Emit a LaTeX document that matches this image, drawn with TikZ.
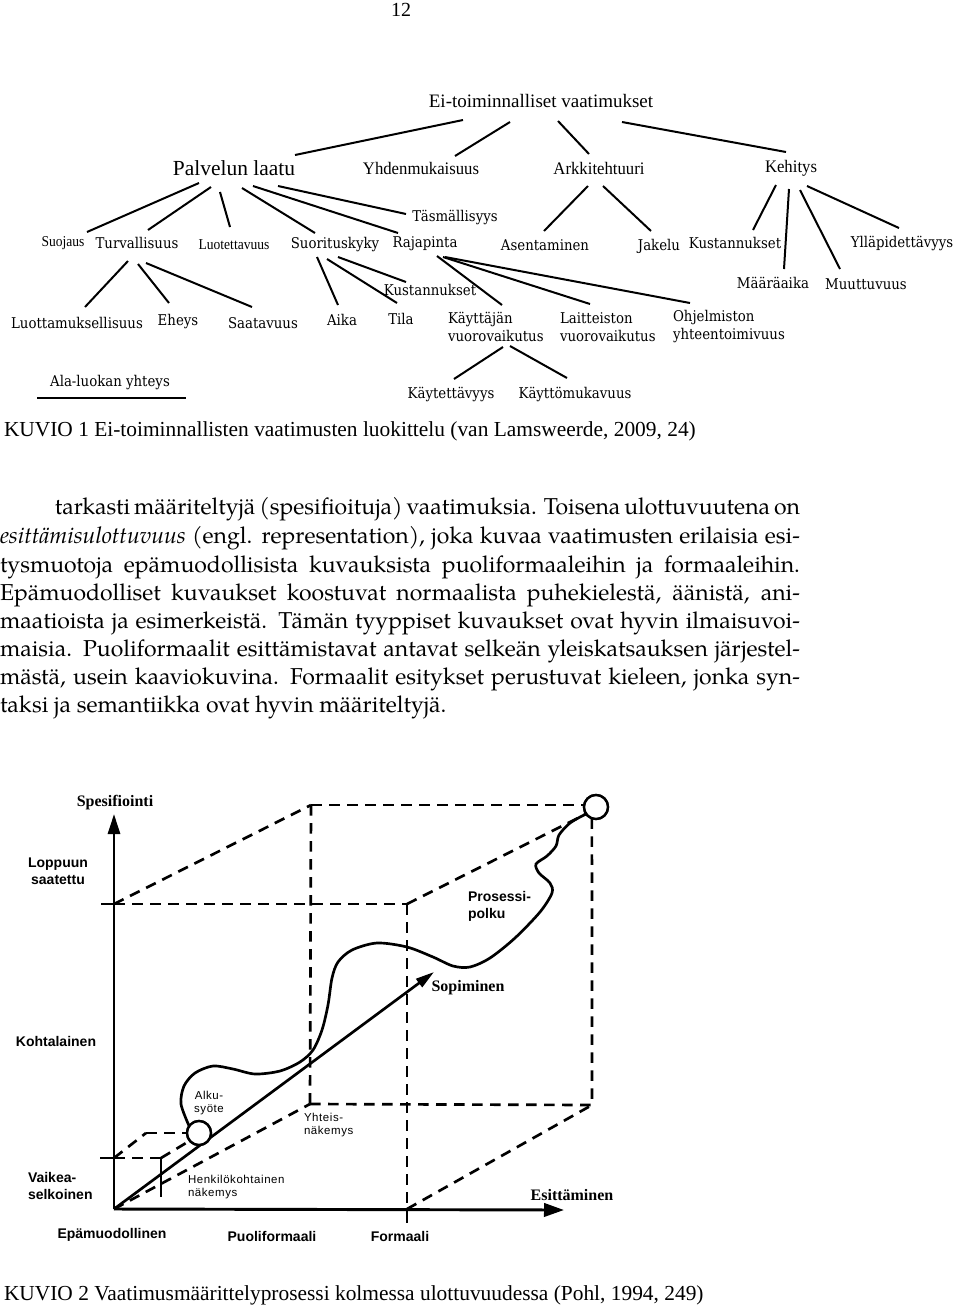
\documentclass[tikz,border=0pt]{standalone}
\usepackage{fontspec}
\setmainfont{Liberation Serif}
\newfontfamily\dvs[FakeStretch=0.9]{DejaVu Serif}
\newfontfamily\lsc[FakeStretch=0.9]{Liberation Serif}
\newfontfamily\lsh[FakeStretch=0.95]{Liberation Serif}
\newfontfamily\pal{TeX Gyre Pagella}
\newfontfamily\ars{Liberation Sans}
\newfontfamily\arsp[LetterSpace=5]{Liberation Sans}
\usetikzlibrary{calc,arrows.meta}
\newcommand\setfs[2]{\fontsize{#1}{#2}\selectfont}
\begin{document}
\begin{tikzpicture}[x=0.75pt,y=-0.75pt,
 every node/.style={inner sep=0pt, outer sep=0pt},
 tl/.style={line width=1.5pt},
 hT/.style={font=\setfs{14.25pt}{17pt}},
 hP/.style={font=\setfs{16.1pt}{19pt}},
 hB/.style={font=\lsh\setfs{13.2pt}{15pt}},
 lA/.style={font=\dvs\setfs{11.1pt}{13.5pt}},
 lB/.style={font=\lsc\setfs{11.3pt}{13pt}},
 bodyline/.style={anchor=mid west, font=\pal\setfs{17.25pt}{21pt}},
 captxt/.style={anchor=mid west, font=\setfs{16.05pt}{19pt}},
 ab/.style={font=\ars\bfseries\setfs{10.5pt}{12.75pt}},
 sb/.style={font=\bfseries\setfs{12pt}{14pt}},
 sm/.style={font=\arsp\setfs{8.6pt}{9.75pt}},
 dsh/.style={line width=2pt, dash pattern=on 8pt off 5.5pt},
 ax/.style={line width=2.2pt},
 ring/.style={draw, circle, fill=white, line width=1.8pt, minimum size=18pt},
]
\fill[white] (0,0) rectangle (960,1311);
\useasboundingbox (0,0) rectangle (960,1311);

% page number
\node[font=\setfs{15pt}{18pt}] (pn) at (401,10) {12};

% ---------------- tree ----------------
\node[hT] (t0) at (541,101) {Ei-toiminnalliset vaatimukset};
\node[hP] (pl) at (234,168) {Palvelun laatu};
\node[hB] (yh) at (421,168) {Yhdenmukaisuus};
\node[hB] (ar) at (599,168) {Arkkitehtuuri};
\node[hB] (ke) at (791,168) {Kehitys};
\node[lA] (ts) at (455,217) {Täsmällisyys};
\node[lB] (su) at (63,243) {Suojaus};
\node[lA] (tu) at (137,243) {Turvallisuus};
\node[lB] (lu) at (234,245) {Luotettavuus};
\node[lA] (sk) at (335,245) {Suorituskyky};
\node[lA] (rp) at (425,244) {Rajapinta};
\node[lA] (as) at (545,245) {Asentaminen};
\node[lA] (ja) at (659,246) {Jakelu};
\node[lA] (kk) at (735,243) {Kustannukset};
\node[lA] (yl) at (902,243) {Ylläpidettävyys};
\node[lA] (ma) at (773,283) {Määräaika};
\node[lA] (mu) at (866,284) {Muuttuvuus};
\node[lA] (ks) at (430,290) {Kustannukset};
\node[lA] (lm) at (77,323) {Luottamuksellisuus};
\node[lA] (eh) at (178,322) {Eheys};
\node[lA] (sa) at (263,323) {Saatavuus};
\node[lA] (ai) at (342,320) {Aika};
\node[lA] (ti) at (401,319) {Tila};
\node[lA, align=left, anchor=west] (kv) at (448,327) {Käyttäjän\\vuorovaikutus};
\node[lA, align=left, anchor=west] (lv) at (560,327) {Laitteiston\\vuorovaikutus};
\node[lA, align=left, anchor=west] (oy) at (673,327) {Ohjelmiston\\yhteentoimivuus};
\node[lA] (al) at (110,383) {Ala-luokan yhteys};
\node[lA] (kt) at (451,394) {Käytettävyys};
\node[lA] (km) at (575,394) {Käyttömukavuus};

\draw[tl] ($(al)+(37-110,15)$) -- ($(al)+(186-110,15)$);

\draw[tl] ($(t0)+(463-541,120-101)$) -- ($(pl)+(295-234,155-168)$);
\draw[tl] ($(t0)+(510-541,122-101)$) -- ($(yh)+(455-421,156-168)$);
\draw[tl] ($(t0)+(558-541,121-101)$) -- ($(ar)+(589-599,154-168)$);
\draw[tl] ($(t0)+(622-541,122-101)$) -- ($(ke)+(786-791,152-168)$);
\draw[tl] ($(pl)+(199-234,183-168)$) -- ($(su)+(87-63,232-243)$);
\draw[tl] ($(pl)+(211-234,187-168)$) -- ($(tu)+(148-137,230-243)$);
\draw[tl] ($(pl)+(220-234,192-168)$) -- ($(lu)+(230-234,227-245)$);
\draw[tl] ($(pl)+(242-234,188-168)$) -- ($(sk)+(315-335,233-245)$);
\draw[tl] ($(pl)+(253-234,186-168)$) -- ($(rp)+(398-425,233-244)$);
\draw[tl] ($(pl)+(278-234,186-168)$) -- ($(ts)+(406-455,214-217)$);
\draw[tl] ($(tu)+(128-137,261-243)$) -- ($(lm)+(85-77,307-323)$);
\draw[tl] ($(tu)+(138-137,264-243)$) -- ($(eh)+(169-178,303-322)$);
\draw[tl] ($(tu)+(146-137,263-243)$) -- ($(sa)+(252-263,307-323)$);
\draw[tl] ($(sk)+(317-335,257-245)$) -- ($(ai)+(338-342,305-320)$);
\draw[tl] ($(sk)+(327-335,259-245)$) -- ($(ti)+(397-401,303-319)$);
\draw[tl] ($(sk)+(338-335,257-245)$) -- ($(ks)+(406-430,282-290)$);
\draw[tl] ($(rp)+(437-425,256-244)$) -- ($(kv.west)+(502-448,305-327)$);
\draw[tl] ($(rp)+(443-425,257-244)$) -- ($(lv.west)+(590-560,304-327)$);
\draw[tl] ($(rp)+(445-425,257-244)$) -- ($(oy.west)+(690-673,303-327)$);
\draw[tl] ($(kv.west)+(503-448,347-327)$) -- ($(kt)+(454-451,379-394)$);
\draw[tl] ($(kv.west)+(510-448,346-327)$) -- ($(km)+(567-575,378-394)$);
\draw[tl] ($(ar)+(588-599,186-168)$) -- ($(as)+(544-545,231-245)$);
\draw[tl] ($(ar)+(603-599,186-168)$) -- ($(ja)+(651-659,231-246)$);
\draw[tl] ($(ke)+(776-791,185-168)$) -- ($(kk)+(753-735,230-243)$);
\draw[tl] ($(ke)+(789-791,189-168)$) -- ($(ma)+(784-773,269-283)$);
\draw[tl] ($(ke)+(800-791,190-168)$) -- ($(mu)+(840-866,269-284)$);
\draw[tl] ($(ke)+(807-791,186-168)$) -- ($(yl)+(899-902,228-243)$);

% ---------------- captions and body ----------------
\node[captxt] (c1) at (4,433) {KUVIO 1 Ei-toiminnallisten vaatimusten luokittelu (van Lamsweerde, 2009, 24)};
\node[bodyline] (b1) at (55,511) {\makebox[558.75pt][s]{tarkasti määriteltyjä (spesifioituja) vaatimuksia. Toisena ulottuvuutena on}};
\node[bodyline] (b2) at (0,540) {\makebox[600pt][s]{\textit{esittämisulottuvuus} (engl. representation), joka kuvaa vaatimusten erilaisia esi-}};
\node[bodyline] (b3) at (0,569) {\makebox[600pt][s]{tysmuotoja epämuodollisista kuvauksista puoliformaaleihin ja formaaleihin.}};
\node[bodyline] (b4) at (0,597) {\makebox[600pt][s]{Epämuodolliset kuvaukset koostuvat normaalista puhekielestä, äänistä, ani-}};
\node[bodyline] (b5) at (0,625) {\makebox[600pt][s]{maatioista ja esimerkeistä. Tämän tyyppiset kuvaukset ovat hyvin ilmaisuvoi-}};
\node[bodyline] (b6) at (0,653) {\makebox[600pt][s]{maisia. Puoliformaalit esittämistavat antavat selkeän yleiskatsauksen järjestel-}};
\node[bodyline] (b7) at (0,681) {\makebox[600pt][s]{mästä, usein kaaviokuvina. Formaalit esitykset perustuvat kieleen, jonka syn-}};
\node[bodyline] (b8) at (0,709) {taksi ja semantiikka ovat hyvin määriteltyjä.};
\node[captxt] (c2) at (4,1297) {KUVIO 2 Vaatimusmäärittelyprosessi kolmessa ulottuvuudessa (Pohl, 1994, 249)};

% ---------------- 3D diagram ----------------
\coordinate (O) at (114,1209);
\coordinate (Yt) at (114,814);
\coordinate (Xt) at (564,1210);
\coordinate (F1) at (114,904);
\coordinate (F2) at (407,904);
\coordinate (F3) at (407,1209);
\coordinate (B1) at (311,805);
\coordinate (B3) at (592,1105);
\coordinate (B4) at (310,1104);
\coordinate (S1) at (114,1158);
\coordinate (S2) at (161,1158);
\coordinate (S3) at (161,1197);
\coordinate (S4) at (146,1133);
\coordinate (Ar) at (434,972);

\node[ring] (ec) at (596,807) {};
\node[ring] (sc) at (199,1133) {};

% dashed box
\draw[dsh] (F1) -- (F2);
\draw[dsh] (F1) -- (B1);
\draw[dsh] (B1) -- (B1 -| ec.west);
\draw[dsh] (B1) -- (B4);
\draw[dsh] (F2) -- (F3);
\draw[dsh] (F2) -- (ec.215);
\draw[dsh] (ec.250) -- (B3);
\draw[dsh] (B4) -- (B3);
\draw[dsh] (F3) -- (B3);
\draw[dsh] (O) -- (B4);
% small cube
\draw[dsh] (S1) -- (S2);
\draw[dsh] (S1) -- (S4);
\draw[dsh] (S4) -- (sc.west);
\draw[dsh] (S2) -- (sc.220);
\draw[line width=1.8pt] (S2) -- (S3);

% ticks
\draw[ax] (F1) -- ++(-13,0);
\draw[ax] (S1) -- ++(-14,0);
\draw[ax] (F3) -- ++(0,14);

% axes
\draw[ax,-{Triangle[length=15pt,width=9pt]}] (O) -- (Yt);
\draw[ax,-{Triangle[length=15pt,width=10pt]}] (O) -- (Xt);
\draw[line width=2pt,-{Triangle[length=14pt,width=7.5pt]}] (O) -- (Ar);

% process path
\draw[line width=2pt] plot[smooth] coordinates {(sc.145) (181,1104) (184,1086) (195,1073) (213,1066) (233,1069) (255,1074) (280,1071) (300,1062) (313,1050) (322,1030) (328,1005) (332,978) (338,962) (352,950) (377,943) (407,947) (433,957) (453,966) (470,967) (490,958) (515,938) (540,912) (552,893) (550,883) (539,873) (536,864) (547,856) (556,846) (559,835) (570,823) (ec.215)};

\node[ring] at (ec) {};
\node[ring] at (sc) {};

% labels
\node[sb] (sp) at (115,803) {Spesifiointi};
\node[ab, align=center] (lo) at (58,871) {Loppuun\\saatettu};
\node[ab] (ko) at (56,1041) {Kohtalainen};
\node[ab, align=left, anchor=west] (vs) at (28,1185.5) {Vaikea-\\selkoinen};
\node[ab] (ep) at (112,1235) {Epämuodollinen};
\node[ab] (pf) at (272,1236) {Puoliformaali};
\node[ab] (fo) at (400,1236) {Formaali};
\node[sb] (es) at (572,1195) {Esittäminen};
\node[sb] (so) at (468,988) {Sopiminen};
\node[ab, align=left, anchor=west] (pp) at (468,906) {Prosessi-\\polku};
\node[sm, align=center] (ak) at (209,1103.5) {Alku-\\syöte};
\node[sm, align=left, anchor=west] (yn) at (304,1125.5) {Yhteis-\\näkemys};
\node[sm, align=left, anchor=west] (hn) at (188,1187.5) {Henkilökohtainen\\näkemys};
\end{tikzpicture}
\end{document}
